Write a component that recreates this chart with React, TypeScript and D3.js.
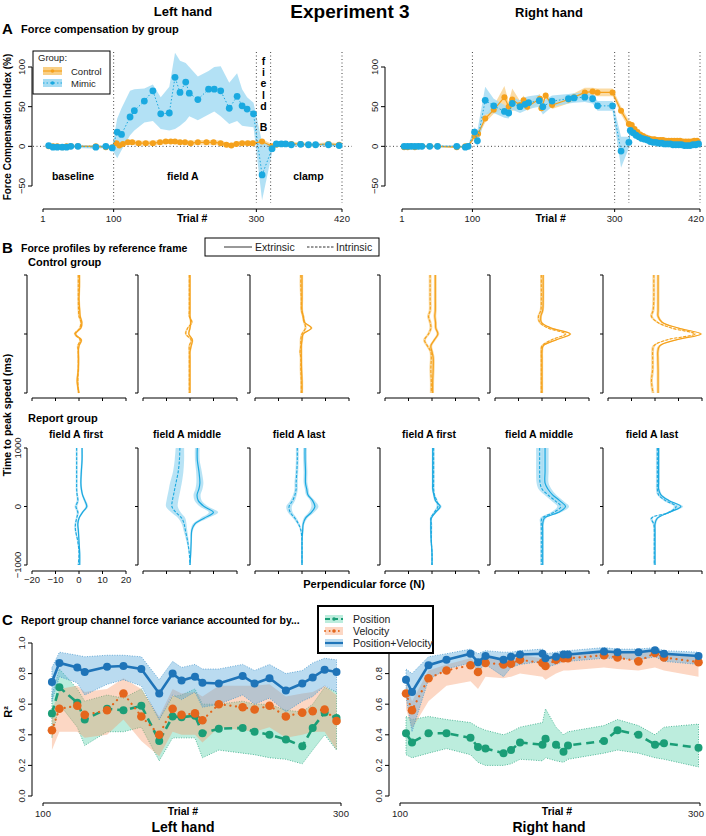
import React from 'react';
import * as d3 from 'd3';

const FONT = '"Liberation Sans", Arial, Helvetica, sans-serif';

// ---------------- Panel A data ----------------
const phaseTrials = [100, 300, 320, 420];
const trialTicksA = [1, 100, 300, 420];
const yTicksA = [-50, 0, 50, 100];

const mimicLTrials = [9,15,21,28,34,40,50,75,89,98,105,111,123,129,143,155,166,178,186,193,201,206,218,233,241,250,262,273,280,287,296,308,322,328,335,341,349,362,373,383,401,416];
const mimicLVals = [1,-1,-1,-1,-1,0,0,-1,0,-2,18,15,37,45,57,70,41,42,87,68,81,67,59,72,72,70,48,63,51,47,41,-36,-3,3,3,3,2,2.5,2,2,2,1];
const mimicLHi = [3,1,1,1,1,2,2,1,2,0,35,48,70,72,73,78,62,75,118,108,105,100,88,95,100,101,80,92,72,62,55,5,2,5,5,5,4,4,4,4,4,3];
const mimicLLo = [-1,-3,-3,-3,-3,-2,-2,-3,-2,-4,-15,-5,14,20,30,32,22,20,22,26,32,38,33,40,44,38,28,32,26,25,24,-68,-8,1,1,1,0,1,0,0,0,-1];

const ctrlLTrials = [9,15,21,28,34,40,50,75,89,98,104,108,113,120,126,135,145,155,165,173,180,186,193,200,208,218,230,240,250,258,265,272,280,288,295,308,322,328,335,341,349,362,373,383,401,416];
const ctrlLVals = [0,0,0,-1,0,0,0,0,-1,-1,4,1,3,5,5,4,4,4,5,6,6,6,5,5,4,5,5,5,4,2,1,3,4,4,4,6,0,2,3,3,3,3,2,2,3,2];
const ctrlLSe = [1.5,1.5,1.5,1.5,1.5,1.5,1.5,1.5,1.5,1.5,3,3,3,3,3,3,3,3,3,3,3,3,3,3,3,3,3,3,3,3,3,3,3,3,3,3,3,2,2,2,2,2,2,2,2,2];

const mimicRTrials = [4,9,14,19,24,29,40,51,78,90,94,103,107,118,130,145,151,156,167,174,179,194,199,212,235,243,258,269,276,297,309,320,322,326,330,334,338,342,346,350,354,358,362,366,370,374,378,382,386,390,394,398,402,406,410,414,418];
const mimicRVals = [0,0,0,0,0,0,0,0,0,-1,0,18,7,58,51,44,42,54,50,53,55,57.5,50,57,60,61,62,60,51,51,-6,5,20,17,14,12,10,9,8,6,5,5,4,4,3,3,3,2,2,2,2,1,1,1,2,2,3];
const mimicRHi = [1.5,1.5,1.5,1.5,1.5,1.5,1.5,1.5,1.5,0.5,1.5,24,20,75,60,52,50,62,58,62,63,65,57,64,66,67,68,66,57,57,12,12,25,21,18,15,13,12,11,9,8,8,7,7,6,6,6,5,5,5,5,4,4,4,5,5,6];
const mimicRLo = [-1.5,-1.5,-1.5,-1.5,-1.5,-1.5,-1.5,-1.5,-1.5,-2.5,-1.5,12,-2,40,42,36,35,46,42,45,47,50,40,50,54,55,56,54,45,45,-27,-2,15,13,10,9,7,6,5,3,2,2,1,1,0,0,0,-1,-1,-1,-1,-2,-2,-2,-1,-1,0];

const ctrlRTrials = [4,9,14,19,24,29,40,51,78,90,94,103,108,118,130,145,151,156,167,172,177,195,197,203,212,235,243,258,269,276,297,309,320,324,328,332,336,340,344,348,352,356,360,364,368,372,376,380,384,388,392,396,400,404,408,412,416];
const ctrlRVals = [-1,-1,0,-1,0,0,0,0,-1,0,0,13,16,35,46,62,50,59,52,58,50,60,48,64,52,59,62,68,69,68,68,45,28,27,22,18,15,13,11,10,9,9,8,8,8,7,7,7,7,7,7,6,6,6,6,7,7];
const ctrlRSe = [1,1,1,1,1,1,1,1,1,1,1,4,4,5,5,14,6,14,5,6,5,6,6,4,5,5,5,6,5,5,5,5,5,4,4,3,3,3,3,3,3,3,3,3,3,3,3,3,3,3,3,3,3,3,3,3,3];

// ---------------- Panel B data ----------------
const bTimes = [1000,800,600,400,300,200,100,0,-100,-200,-300,-400,-600,-800,-1000];
const forceTicks = [-20,-10,0,10,20];
const timeTicks = [-1000, 0, 1000];
const bTitles = ['field A first', 'field A middle', 'field A last', 'field A first', 'field A middle', 'field A last'];

const ctrlExt = [
  [0.2,0.2,0,0.3,0.5,1.2,0.8,-1.5,1.0,0,-0.3,-0.2,-0.3,-0.8,0],
  [0,0,0,0,0,0.3,0,-0.5,1.0,0.5,0,0,0,0,0],
  [0,0,0,0,0.5,1,4,0.5,0,-0.3,-0.3,-0.3,-0.2,0,0],
  [1.4,1.4,1.4,1.4,1.2,1.5,1.6,2.5,1.0,-0.5,0,0.5,0.5,0.3,0.3],
  [0.5,0.5,0.5,0.3,-0.5,-0.3,4,12,6,0.5,0,0,0,0,0],
  [1.3,1.3,1.3,1.3,1.3,3,10,19.5,9,2,1.2,1.2,1.3,1.3,1.3],
];
const ctrlInt = [
  [-0.3,-0.3,-0.3,-0.2,0,0.8,0.3,-1.8,0.5,-0.5,-0.3,-0.3,-0.3,-0.5,-0.2],
  [-0.3,-0.3,-0.3,-0.3,-0.3,0.8,-1.0,-1.8,0.5,-0.3,-0.3,-0.3,-0.3,-0.3,-0.3],
  [-0.5,-0.5,-0.3,-0.2,0.5,1,1.5,0,-0.5,-0.5,-0.8,-0.5,-0.5,-0.3,-0.3],
  [-0.8,-0.8,-0.8,-0.8,-1.5,-0.8,-0.5,-1.5,-3.2,-2,-0.5,-0.3,-0.5,-0.3,-0.3],
  [-0.3,-0.3,-0.3,-0.5,-1.5,-1,2.5,10,4,0,-0.3,-0.3,-0.3,-0.3,-0.3],
  [-0.5,-0.5,-0.5,-0.8,-1.5,1,7,17,5,-0.5,-1,-1,-1,-1.5,-0.8],
];
const ctrlSe = [0.4, 0.4, 0.5, 0.6, 0.5, 0.6];

const repExt = [
  [1.3,1.3,1.0,0.8,1.0,1.5,2.5,3.3,1.5,0,-0.5,-0.3,0,0.3,0.3],
  [3.1,3.1,3.8,4.2,3.8,3,3.5,6,10,6,2,0.8,0.5,0.3,0],
  [1.3,1.3,1.5,1.5,2,2.5,4.5,5.5,4,1.5,0.5,0.3,0,0,0],
  [0.3,0.3,0.3,0.3,0.3,0.8,1.5,3.5,1.5,-0.3,-0.5,-0.5,-0.3,0,0],
  [1.3,1.3,1.3,1.3,2.5,4.5,7.5,10,7,1,0.3,0.3,0.3,0.3,0.3],
  [1.5,1.5,1.5,1.5,1.5,2.5,6,11,6,1,0,0,0,0,0],
];
const repInt = [
  [-1,-1,-1,-1,-1,-0.8,-0.5,-1.3,-0.5,-1,-1.5,-1.5,-0.5,0,-0.3],
  [-4.3,-4.5,-5,-6,-6.5,-7,-7.5,-7.7,-6,-3.5,-2.5,-2,-1,-0.3,0],
  [-2,-2,-2.2,-2.5,-2.5,-3,-4,-5.5,-5,-3,-1.5,-0.5,0,0,0],
  [0.7,0.7,0.7,0.7,0.7,1,2,2.5,1,-0.5,-0.3,-0.3,-0.3,0,0],
  [-1,-1,-1,-0.8,0,2.5,5.5,8,5,0,-0.3,-0.3,-0.3,-0.3,-0.3],
  [1,1,1,1,1,1.5,4.5,9,6,-1.5,-0.5,-0.3,-0.3,-0.3,-0.3],
];
const repExtSe = [
  [0.4,0.4,0.4,0.4,0.4,0.4,0.5,0.6,0.5,0.4,0.4,0.4,0.3,0.3,0.3],
  [1,1,1.2,1.5,1.5,1.5,1.5,1.8,2,1.5,0.8,0.5,0.3,0.3,0.3],
  [0.8,0.8,0.8,0.8,0.8,0.8,1,1.5,1.2,0.8,0.5,0.4,0.3,0.3,0.3],
  [0.4,0.4,0.4,0.4,0.4,0.4,0.5,0.6,0.5,0.4,0.4,0.4,0.3,0.3,0.3],
  [1.5,1.5,1.5,1.5,1.5,1.5,1.5,1.5,1.2,0.8,0.5,0.4,0.4,0.4,0.4],
  [0.6,0.6,0.6,0.6,0.6,0.6,0.8,1,0.8,0.6,0.5,0.4,0.4,0.4,0.4],
];
const repIntSe = [
  [0.4,0.4,0.4,0.4,0.4,0.4,0.5,0.6,0.5,0.4,0.4,0.4,0.3,0.3,0.3],
  [1.8,2,2.2,2.5,2.5,2.5,2.5,2.5,2,1.5,1,0.8,0.5,0.3,0.3],
  [0.6,0.6,0.6,0.7,0.7,0.8,1,1.2,1,0.8,0.5,0.4,0.3,0.3,0.3],
  [0.4,0.4,0.4,0.4,0.4,0.4,0.5,0.6,0.5,0.4,0.4,0.4,0.3,0.3,0.3],
  [1.5,1.5,1.5,1.5,1.5,1.5,1.5,1.5,1.2,0.8,0.5,0.4,0.4,0.4,0.4],
  [0.6,0.6,0.6,0.6,0.6,0.6,0.8,1,0.8,0.6,0.5,0.4,0.4,0.4,0.4],
];

// ---------------- Panel C data ----------------
const rTicks = [0, 0.2, 0.4, 0.6, 0.8, 1.0];
const trialTicksC = [100, 300];

const cTrialsL = [106,111,123,128,143,154,166,178,187,193,202,207,218,234,242,252,263,274,281,289,297];
const posL = [0.54,0.71,0.61,0.50,0.57,0.56,0.59,0.36,0.52,0.515,0.525,0.41,0.44,0.445,0.42,0.40,0.37,0.325,0.445,0.545,0.51];
const posLoL = [0.38,0.60,0.45,0.33,0.42,0.42,0.45,0.23,0.38,0.38,0.38,0.25,0.30,0.28,0.27,0.25,0.24,0.21,0.30,0.40,0.30];
const posHiL = [0.66,0.83,0.70,0.62,0.66,0.64,0.70,0.50,0.65,0.66,0.70,0.60,0.60,0.62,0.60,0.60,0.56,0.55,0.60,0.71,0.68];
const velL = [0.43,0.57,0.59,0.53,0.56,0.67,0.52,0.40,0.57,0.53,0.54,0.495,0.60,0.58,0.565,0.59,0.52,0.545,0.555,0.565,0.49];
const velLoL = [0.30,0.42,0.42,0.38,0.40,0.50,0.36,0.26,0.42,0.40,0.40,0.35,0.45,0.43,0.42,0.45,0.38,0.40,0.42,0.42,0.30];
const velHiL = [0.55,0.70,0.72,0.68,0.70,0.77,0.70,0.52,0.70,0.67,0.68,0.65,0.72,0.72,0.72,0.73,0.65,0.67,0.68,0.72,0.66];
const pvL = [0.745,0.87,0.84,0.81,0.845,0.85,0.83,0.67,0.80,0.755,0.78,0.74,0.735,0.785,0.735,0.77,0.69,0.735,0.775,0.825,0.81];
const pvLoL = [0.62,0.78,0.74,0.66,0.73,0.76,0.72,0.50,0.66,0.63,0.68,0.58,0.60,0.66,0.60,0.64,0.55,0.62,0.65,0.72,0.68];
const pvHiL = [0.84,0.94,0.92,0.91,0.92,0.92,0.91,0.76,0.88,0.84,0.86,0.83,0.83,0.86,0.82,0.86,0.80,0.82,0.87,0.90,0.89];

const cTrialsR = [104,108,119,131,147,152,157,169,174,180,195,197,204,209,212,236,245,259,270,276,299];
const posR = [0.41,0.35,0.41,0.41,0.38,0.32,0.31,0.28,0.30,0.35,0.335,0.375,0.335,0.29,0.33,0.36,0.43,0.40,0.335,0.345,0.315];
const posLoR = [0.27,0.25,0.28,0.31,0.27,0.22,0.20,0.20,0.21,0.24,0.23,0.25,0.23,0.22,0.24,0.28,0.30,0.28,0.25,0.24,0.19];
const posHiR = [0.52,0.50,0.52,0.50,0.48,0.45,0.43,0.40,0.42,0.45,0.48,0.57,0.45,0.40,0.42,0.46,0.50,0.46,0.40,0.45,0.47];
const velR = [0.67,0.56,0.77,0.82,0.855,0.81,0.87,0.86,0.865,0.89,0.87,0.85,0.89,0.90,0.90,0.92,0.905,0.88,0.935,0.905,0.875];
const velLoR = [0.57,0.44,0.62,0.72,0.75,0.70,0.78,0.77,0.78,0.80,0.78,0.76,0.80,0.82,0.82,0.84,0.83,0.82,0.84,0.82,0.78];
const velHiR = [0.74,0.62,0.82,0.86,0.90,0.86,0.91,0.90,0.90,0.92,0.90,0.90,0.92,0.93,0.93,0.95,0.94,0.93,0.96,0.94,0.91];
const pvR = [0.76,0.68,0.855,0.89,0.93,0.875,0.915,0.89,0.91,0.925,0.93,0.90,0.91,0.925,0.925,0.945,0.94,0.94,0.953,0.93,0.915];
const pvLoR = [0.65,0.42,0.76,0.83,0.87,0.82,0.86,0.78,0.84,0.86,0.88,0.84,0.86,0.88,0.88,0.90,0.90,0.89,0.91,0.88,0.86];
const pvHiR = [0.83,0.80,0.91,0.93,0.96,0.93,0.95,0.94,0.94,0.95,0.96,0.93,0.94,0.95,0.95,0.97,0.96,0.96,0.97,0.95,0.94];

// ---------------- colours ----------------
const MIMIC = '#1AA9E0';
const MIMIC_BAND = '#A6DCF3';
const CTRL = '#F5A11C';
const CTRL_BAND = '#F9CF85';
const POS = '#1B9E77';
const VEL = '#E4661C';
const PV = '#1F74B8';

// ---------------- scales ----------------
const yA = d3.scaleLinear().domain([-50, 100]).range([186, 67]);
const xAL = d3.scaleLinear().domain([1, 420]).range([43, 342]);
const xAR = d3.scaleLinear().domain([1, 420]).range([402, 700]);

const bX0 = [32, 143, 255, 385, 495, 608];
const yB1 = d3.scaleLinear().domain([-1000, 1000]).range([393, 275]);
const yB2 = d3.scaleLinear().domain([-1000, 1000]).range([565, 448]);

const xCL = d3.scaleLinear().domain([100, 300]).range([43, 341]);
const xCR = d3.scaleLinear().domain([100, 300]).range([400, 700]);
const yC = d3.scaleLinear().domain([0, 1]).range([796, 643]);

const idx = (n: number) => d3.range(n);
const MAXLABELX = 696;

function PanelA(props: any) {
  const { xs, axisX, regL, regR, mT, mV, mLo, mHi, cT, cV, cSe, clip, left } = props;
  const bandM = d3.area<number>().x(i => xs(mT[i])).y0(i => yA(mLo[i])).y1(i => yA(mHi[i]))(idx(mT.length)) || '';
  const bandC = d3.area<number>().x(i => xs(cT[i])).y0(i => yA(cV[i] - cSe[i])).y1(i => yA(cV[i] + cSe[i]))(idx(cT.length)) || '';
  const lineM = d3.line<number>().x(i => xs(mT[i])).y(i => yA(mV[i]))(idx(mT.length)) || '';
  const lineC = d3.line<number>().x(i => xs(cT[i])).y(i => yA(cV[i]))(idx(cT.length)) || '';
  const axY = 209;
  return (
    <g>
      <defs>
        <clipPath id={clip}><rect x={regL} y={50} width={regR - regL} height={154} /></clipPath>
      </defs>
      <g clipPath={`url(#${clip})`}>
        <path d={bandC} fill={CTRL_BAND} opacity={0.75} />
        <path d={bandM} fill={MIMIC_BAND} opacity={0.85} />
      </g>
      <line x1={regL} x2={regR} y1={yA(0)} y2={yA(0)} stroke="#444" strokeWidth={1} strokeDasharray="1,2.5" />
      {phaseTrials.map(t => (
        <line key={t} x1={xs(t)} x2={xs(t)} y1={52} y2={203} stroke="#444" strokeWidth={1} strokeDasharray="1,2.5" />
      ))}
      <path d={lineC} fill="none" stroke={CTRL} strokeWidth={1.2} />
      {cT.map((t: number, i: number) => <circle key={'c' + i} cx={xs(t)} cy={yA(cV[i])} r={3} fill={CTRL} />)}
      <path d={lineM} fill="none" stroke={MIMIC} strokeWidth={1} strokeDasharray="1.5,2" />
      {mT.map((t: number, i: number) => <circle key={'m' + i} cx={xs(t)} cy={yA(mV[i])} r={3.4} fill={MIMIC} />)}
      {/* y axis */}
      <line x1={axisX} x2={axisX} y1={yA(-50)} y2={yA(100)} stroke="#000" />
      {yTicksA.map(v => (
        <g key={v}>
          <line x1={axisX - 4} x2={axisX} y1={yA(v)} y2={yA(v)} stroke="#000" />
          <text transform={`translate(${axisX - 7},${yA(v)}) rotate(-90)`} textAnchor="middle" fontSize={9.5} fill="#222">{v === -50 ? '\u221250' : v}</text>
        </g>
      ))}
      {/* x axis */}
      <line x1={xs(1)} x2={xs(420)} y1={axY} y2={axY} stroke="#000" />
      {trialTicksA.map(t => (
        <g key={t}>
          <line x1={xs(t)} x2={xs(t)} y1={axY} y2={axY + 3} stroke="#000" />
          <text x={Math.min(xs(t), MAXLABELX)} y={axY + 13} textAnchor="middle" fontSize={9.5} fill="#222">{t}</text>
        </g>
      ))}
      <text x={xs(210)} y={axY + 13} textAnchor="middle" fontSize={10.5} fontWeight="bold">Trial #</text>
      {left && (
        <g fontWeight="bold" fontSize={10.5}>
          <text x={xs(43)} y={180} textAnchor="middle">baseline</text>
          <text x={xs(197)} y={180} textAnchor="middle">field A</text>
          <text x={xs(373)} y={180} textAnchor="middle">clamp</text>
          {['f', 'i', 'e', 'l', 'd'].map((ch, k) => (
            <text key={k} x={xs(310)} y={65 + k * 11.2} textAnchor="middle">{ch}</text>
          ))}
          <text x={xs(310)} y={131} textAnchor="middle">B</text>
        </g>
      )}
    </g>
  );
}

function BPanel(props: any) {
  const { k, ys, axY, ext, int, extSe, intSe, color, band, titles, labels } = props;
  const x0 = bX0[k];
  const xs = d3.scaleLinear().domain([-20, 20]).range([x0, x0 + 94]);
  const n = bTimes.length;
  const curve = d3.curveCatmullRom.alpha(0.5);
  const line = (v: number[]) => d3.line<number>().x(i => xs(v[i])).y(i => ys(bTimes[i])).curve(curve)(idx(n)) || '';
  const area = (v: number[], se: number[]) =>
    d3.area<number>().y(i => ys(bTimes[i])).x0(i => xs(v[i] - se[i])).x1(i => xs(v[i] + se[i])).curve(curve)(idx(n)) || '';
  const ax = x0 - 5;
  return (
    <g>
      <path d={area(int, intSe)} fill={band} opacity={0.8} />
      <path d={area(ext, extSe)} fill={band} opacity={0.8} />
      <path d={line(int)} fill="none" stroke={color} strokeWidth={1.1} strokeDasharray="3,1.5" />
      <path d={line(ext)} fill="none" stroke={color} strokeWidth={1.2} />
      <line x1={ax} x2={ax} y1={ys(-1000)} y2={ys(1000)} stroke="#000" />
      {timeTicks.map(t => (
        <g key={t}>
          <line x1={ax - 3} x2={ax} y1={ys(t)} y2={ys(t)} stroke="#000" />
          {labels && (
            <text transform={`translate(${ax - 6},${ys(t)}) rotate(-90)`} textAnchor="middle" fontSize={9.5} fill="#222">
              {t < 0 ? '\u22121000' : t}
            </text>
          )}
        </g>
      ))}
      <line x1={xs(-20)} x2={xs(20)} y1={axY} y2={axY} stroke="#000" />
      {forceTicks.map(f => (
        <g key={f}>
          <line x1={xs(f)} x2={xs(f)} y1={axY} y2={axY + 3} stroke="#000" />
          {labels && (
            <text x={xs(f)} y={axY + 12} textAnchor="middle" fontSize={9.5} fill="#222">{f < 0 ? '\u2212' + Math.abs(f) : f}</text>
          )}
        </g>
      ))}
      {titles && (
        <text x={xs(0) - 3} y={438} textAnchor="middle" fontSize={10.5} fontWeight="bold">{bTitles[k]}</text>
      )}
    </g>
  );
}

function PanelC(props: any) {
  const { xs, axisX, T, pos, posLo, posHi, vel, velLo, velHi, pv, pvLo, pvHi } = props;
  const n = T.length;
  const area = (lo: number[], hi: number[]) =>
    d3.area<number>().x(i => xs(T[i])).y0(i => yC(lo[i])).y1(i => yC(hi[i]))(idx(n)) || '';
  const line = (v: number[]) => d3.line<number>().x(i => xs(T[i])).y(i => yC(v[i]))(idx(n)) || '';
  const axY = 803;
  return (
    <g>
      <path d={area(posLo, posHi)} fill="rgba(95,212,175,0.42)" stroke={POS} strokeWidth={0.7} strokeDasharray="1,1.5" />
      <path d={area(velLo, velHi)} fill="rgba(246,150,100,0.38)" stroke="none" />
      <path d={area(pvLo, pvHi)} fill="rgba(90,170,220,0.42)" stroke="#3A8FC8" strokeWidth={0.7} strokeDasharray="1,1.5" />
      <path d={line(pos)} fill="none" stroke={POS} strokeWidth={2.6} strokeDasharray="8,5" />
      {T.map((t: number, i: number) => <circle key={'p' + i} cx={xs(t)} cy={yC(pos[i])} r={4} fill={POS} />)}
      <path d={line(vel)} fill="none" stroke={VEL} strokeWidth={2.2} strokeDasharray="0.1,5.5" strokeLinecap="round" />
      {T.map((t: number, i: number) => <circle key={'v' + i} cx={xs(t)} cy={yC(vel[i])} r={4.3} fill={VEL} />)}
      <path d={line(pv)} fill="none" stroke={PV} strokeWidth={2.6} />
      {T.map((t: number, i: number) => <circle key={'b' + i} cx={xs(t)} cy={yC(pv[i])} r={4} fill={PV} />)}
      <line x1={axisX} x2={axisX} y1={yC(0)} y2={yC(1)} stroke="#000" />
      {rTicks.map(v => (
        <g key={v}>
          <line x1={axisX - 4} x2={axisX} y1={yC(v)} y2={yC(v)} stroke="#000" />
          <text transform={`translate(${axisX - 7},${yC(v)}) rotate(-90)`} textAnchor="middle" fontSize={9.5} fill="#222">{v.toFixed(1)}</text>
        </g>
      ))}
      <line x1={xs(100)} x2={xs(300)} y1={axY} y2={axY} stroke="#000" strokeWidth={1.2} />
      {trialTicksC.map(t => (
        <g key={t}>
          <line x1={xs(t)} x2={xs(t)} y1={axY} y2={axY + 3} stroke="#000" />
          <text x={Math.min(xs(t), MAXLABELX)} y={axY + 14} textAnchor="middle" fontSize={9.5} fill="#222">{t}</text>
        </g>
      ))}
    </g>
  );
}

export default function App() {
  return (
    <svg width={706} height={836} style={{ position: 'absolute', left: 0, top: 0, background: '#fff' }} fontFamily={FONT}>
      <rect x={0} y={0} width={706} height={836} fill="#fff" />
      {/* titles */}
      <text x={350} y={18} textAnchor="middle" fontSize={19} fontWeight="bold">Experiment 3</text>
      <text x={183} y={16} textAnchor="middle" fontSize={13} fontWeight="bold">Left hand</text>
      <text x={549} y={17} textAnchor="middle" fontSize={13} fontWeight="bold">Right hand</text>

      {/* Panel A */}
      <text x={2} y={34} fontSize={15} fontWeight="bold">A</text>
      <text x={21} y={33} fontSize={11} fontWeight="bold">Force compensation by group</text>
      <text transform="translate(11,127) rotate(-90)" textAnchor="middle" fontSize={10} fontWeight="bold">Force Compensation Index (%)</text>
      <PanelA xs={xAL} axisX={32} regL={33} regR={352} mT={mimicLTrials} mV={mimicLVals} mLo={mimicLLo} mHi={mimicLHi}
        cT={ctrlLTrials} cV={ctrlLVals} cSe={ctrlLSe} clip="clipAL" left />
      <PanelA xs={xAR} axisX={385} regL={386} regR={706} mT={mimicRTrials} mV={mimicRVals} mLo={mimicRLo} mHi={mimicRHi}
        cT={ctrlRTrials} cV={ctrlRVals} cSe={ctrlRSe} clip="clipAR" left={false} />
      {/* legend A */}
      <g>
        <rect x={33} y={51} width={77} height={43} fill="#fff" stroke="#000" strokeWidth={1} />
        <text x={38} y={61} fontSize={9.5} fill="#222">Group:</text>
        <rect x={43} y={67} width={19} height={8} fill={CTRL_BAND} />
        <line x1={43} x2={62} y1={71} y2={71} stroke={CTRL} strokeWidth={1.2} />
        <circle cx={52.5} cy={71} r={1.8} fill={CTRL} />
        <text x={71} y={74.5} fontSize={9.5} fill="#222">Control</text>
        <rect x={43} y={79} width={19} height={8} fill={MIMIC_BAND} />
        <line x1={43} x2={62} y1={83} y2={83} stroke={MIMIC} strokeWidth={1} strokeDasharray="1.5,2" />
        <circle cx={52.5} cy={83} r={1.8} fill={MIMIC} />
        <text x={71} y={86.5} fontSize={9.5} fill="#222">Mimic</text>
      </g>

      {/* Panel B */}
      <text x={2} y={253} fontSize={15} fontWeight="bold">B</text>
      <text x={21} y={252} fontSize={10.5} fontWeight="bold">Force profiles by reference frame</text>
      <g>
        <rect x={205} y={238} width={174} height={18} fill="#fff" stroke="#000" strokeWidth={1} />
        <line x1={224} x2={252} y1={247} y2={247} stroke="#333" strokeWidth={1} />
        <text x={255} y={251} fontSize={10.5} fill="#222">Extrinsic</text>
        <line x1={307} x2={334} y1={247} y2={247} stroke="#333" strokeWidth={1} strokeDasharray="2.5,1.5" />
        <text x={336} y={251} fontSize={10.5} fill="#222">Intrinsic</text>
      </g>
      <text x={28} y={266} fontSize={11} fontWeight="bold">Control group</text>
      <text x={28} y={422} fontSize={11} fontWeight="bold">Report group</text>
      <text transform="translate(11,415) rotate(-90)" textAnchor="middle" fontSize={10.5} fontWeight="bold">Time to peak speed (ms)</text>
      {d3.range(6).map(k => (
        <BPanel key={'c' + k} k={k} ys={yB1} axY={398} ext={ctrlExt[k]} int={ctrlInt[k]}
          extSe={bTimes.map(() => ctrlSe[k])} intSe={bTimes.map(() => ctrlSe[k])}
          color={CTRL} band={CTRL_BAND} titles={false} labels={false} />
      ))}
      {d3.range(6).map(k => (
        <BPanel key={'r' + k} k={k} ys={yB2} axY={571} ext={repExt[k]} int={repInt[k]}
          extSe={repExtSe[k]} intSe={repIntSe[k]} color={MIMIC} band={MIMIC_BAND} titles labels={k === 0} />
      ))}
      <text x={364} y={588} textAnchor="middle" fontSize={11} fontWeight="bold">Perpendicular force (N)</text>

      {/* Panel C */}
      <text x={2} y={625} fontSize={15} fontWeight="bold">C</text>
      <text x={21} y={624} fontSize={10.5} fontWeight="bold">Report group channel force variance accounted for by...</text>
      <text transform="translate(12,712) rotate(-90)" textAnchor="middle" fontSize={11} fontWeight="bold">R²</text>
      <PanelC xs={xCL} axisX={32} T={cTrialsL} pos={posL} posLo={posLoL} posHi={posHiL} vel={velL} velLo={velLoL} velHi={velHiL}
        pv={pvL} pvLo={pvLoL} pvHi={pvHiL} />
      <PanelC xs={xCR} axisX={389} T={cTrialsR} pos={posR} posLo={posLoR} posHi={posHiR} vel={velR} velLo={velLoR} velHi={velHiR}
        pv={pvR} pvLo={pvLoR} pvHi={pvHiR} />
      <text x={183} y={815} textAnchor="middle" fontSize={10.5} fontWeight="bold">Trial #</text>
      <text x={557} y={815} textAnchor="middle" fontSize={10.5} fontWeight="bold">Trial #</text>
      <text x={183} y={832} textAnchor="middle" fontSize={14} fontWeight="bold">Left hand</text>
      <text x={549} y={832} textAnchor="middle" fontSize={14} fontWeight="bold">Right hand</text>
      {/* legend C */}
      <g>
        <rect x={318} y={606} width={115} height={47} fill="#fff" stroke="#000" strokeWidth={2} />
        <rect x={325} y={615} width={18} height={8} fill="rgba(95,212,175,0.42)" />
        <line x1={325} x2={343} y1={619} y2={619} stroke={POS} strokeWidth={2} strokeDasharray="5,3" />
        <circle cx={334} cy={619} r={1.8} fill={POS} />
        <text x={353} y={622.5} fontSize={10.5} fill="#222">Position</text>
        <rect x={325} y={627} width={18} height={8} fill="rgba(246,150,100,0.38)" />
        <line x1={325} x2={343} y1={631} y2={631} stroke={VEL} strokeWidth={1.8} strokeDasharray="0.1,4.5" strokeLinecap="round" />
        <circle cx={334} cy={631} r={1.8} fill={VEL} />
        <text x={353} y={634.5} fontSize={10.5} fill="#222">Velocity</text>
        <rect x={325} y={639} width={18} height={8} fill="rgba(90,170,220,0.42)" />
        <line x1={325} x2={343} y1={643} y2={643} stroke={PV} strokeWidth={2.2} />
        <text x={353} y={646.5} fontSize={10.5} fill="#222">Position+Velocity</text>
      </g>
    </svg>
  );
}
